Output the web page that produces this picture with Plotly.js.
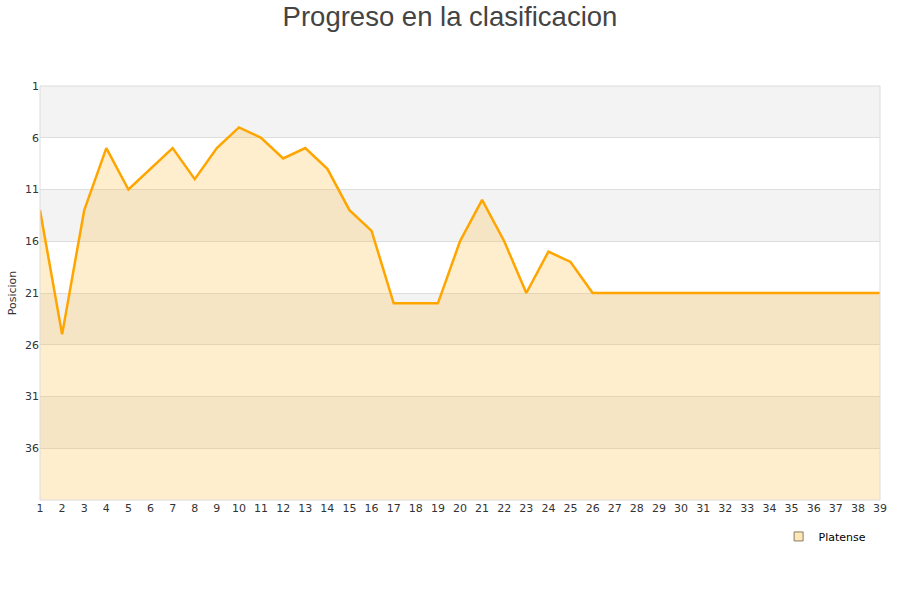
<!DOCTYPE html>
<html>
<head>
<meta charset="utf-8">
<script src="https://cdn.plot.ly/plotly-3.0.1.min.js"></script>
<style>html,body{margin:0;padding:0;background:#fff;}#chart{width:900px;height:600px;}</style>
</head>
<body>
<div id="chart"></div>
<script>
const jornadas = [1,2,3,4,5,6,7,8,9,10,11,12,13,14,15,16,17,18,19,20,21,22,23,24,25,26,27,28,29,30,31,32,33,34,35,36,37,38,39];
const posiciones = [13,25,13,7,11,9,7,10,7,5,6,8,7,9,13,15,22,22,22,16,12,16,21,17,18,21,21,21,21,21,21,21,21,21,21,21,21,21,21];
const yTicks = [1,6,11,16,21,26,31,36];
const bandas = [[1,6],[11,16],[21,26],[31,36]];
const equipo = "Platense";
const fondo = 41;

const shapes = bandas.map(b => ({
  type:'rect', xref:'paper', yref:'y', x0:0, x1:1, y0:b[0], y1:b[1],
  fillcolor:'#f3f3f3', line:{width:0}, layer:'below'
}));

const traces = [
  {x: jornadas, y: jornadas.map(() => fondo), mode:'lines', line:{width:0, color:'rgba(0,0,0,0)'}, showlegend:false, hoverinfo:'skip'},
  {x: jornadas, y: posiciones, mode:'lines', fill:'tonexty', fillcolor:'rgba(255,190,60,0.26)',
   line:{color:'#ffa500', width:2.5}, showlegend:false, name:equipo},
  {x:[null], y:[null], mode:'markers', name:equipo,
   marker:{symbol:'square', size:9, color:'#fde8b8', line:{color:'#8a7a60', width:1}}}
];

const layout = {
  width:900, height:600,
  paper_bgcolor:'#ffffff', plot_bgcolor:'#ffffff',
  margin:{l:40, r:20, t:86, b:100},
  title:{text:'Progreso en la clasificacion', font:{family:'Liberation Sans, Arial, sans-serif', size:27.5, color:'#444'}, x:0.5, xanchor:'center', y:0.973, yanchor:'middle'},
  xaxis:{range:[1,39], tickvals:jornadas, ticktext:jornadas.map(String), showgrid:false, zeroline:false,
    showline:false, ticks:'', tickfont:{family:'DejaVu Sans, sans-serif', size:11, color:'#333'}, fixedrange:true},
  yaxis:{range:[fondo,1], tickvals:yTicks, showgrid:true, gridcolor:'#dddddd', zeroline:false, ticks:'',
    tickfont:{family:'DejaVu Sans, sans-serif', size:11, color:'#333'},
    title:{text:'Posicion', font:{family:'DejaVu Sans, sans-serif', size:11, color:'#333'}, standoff:6}},
  shapes: shapes.concat([{type:'rect', xref:'paper', yref:'paper', x0:0, x1:1, y0:0, y1:1, line:{color:'#dcdcdc', width:1}, fillcolor:'rgba(0,0,0,0)', layer:'above'}]),
  showlegend:true,
  legend:{x:0.99, xanchor:'right', y:-0.053, yanchor:'top', bgcolor:'rgba(0,0,0,0)', font:{family:'DejaVu Sans, sans-serif', size:11, color:'#000'}}
};

Plotly.newPlot('chart', traces, layout, {displayModeBar:false, staticPlot:true});
</script>
</body>
</html>
